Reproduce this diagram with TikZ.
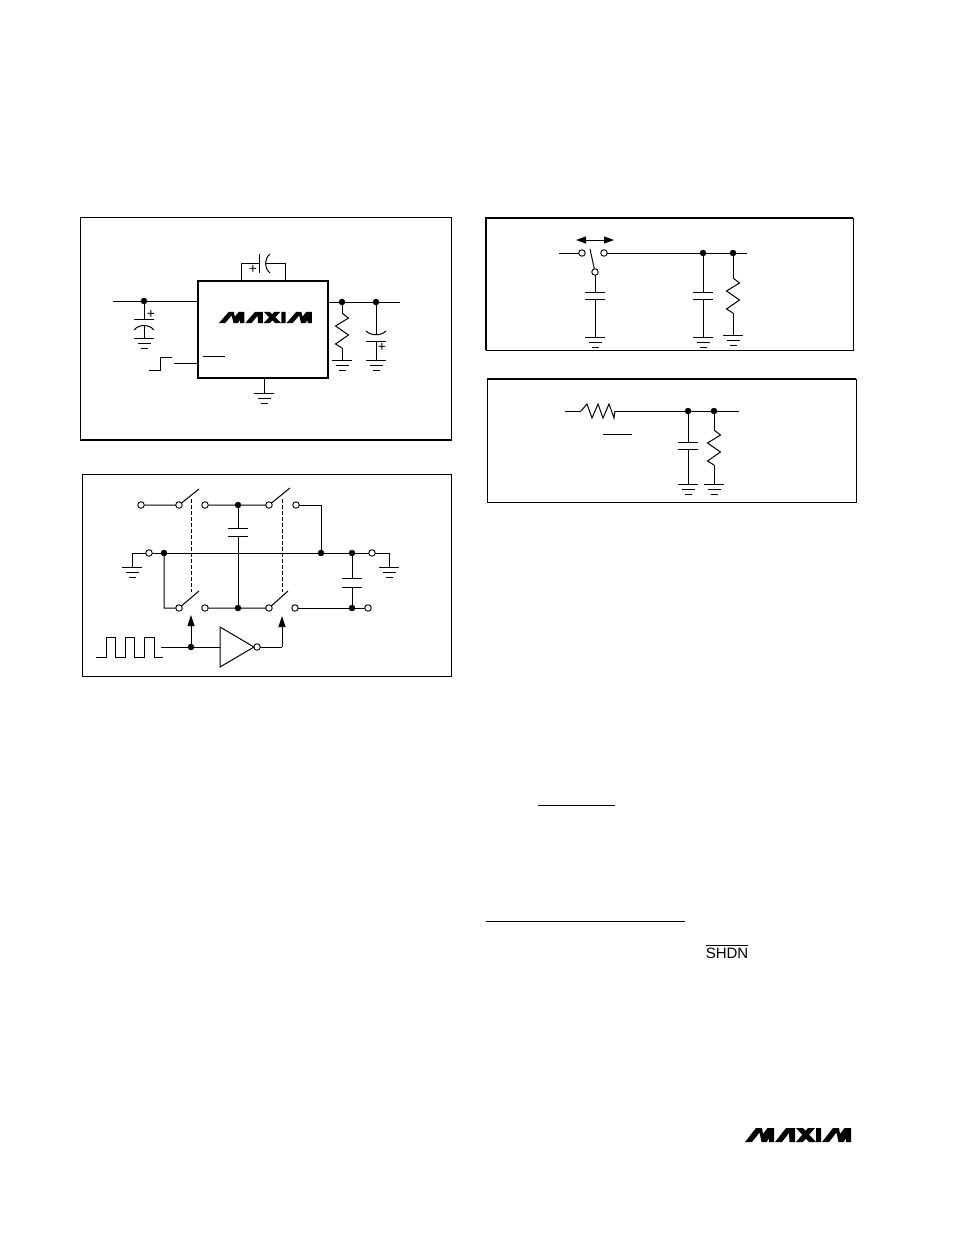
\documentclass[tikz,border=0pt]{standalone}
\usepackage{fontspec}
\setmainfont{Liberation Sans}
\usetikzlibrary{arrows.meta}
\tikzset{
    wire/.style={line width=1pt},
    frame/.style={line width=1pt},
    frameedge/.style={line width=1.8pt},
    jdot/.style={shape=circle,fill=black,draw=black,minimum size=6pt,inner sep=0pt,outer sep=0pt},
    odot/.style={shape=circle,fill=white,draw=black,line width=0.9pt,minimum size=6.5pt,inner sep=0pt,outer sep=0pt},
    icbox/.style={shape=rectangle,draw=black,line width=1.8pt,minimum width=130pt,minimum height=97pt,inner sep=0pt,outer sep=0pt},
    pluslabel/.style={inner sep=0pt,font=\fontsize{14}{14}\selectfont},
    pics/gnd/.style={code={\draw[wire] (-10,0)--(10,0) (-6.5,5)--(6.5,5) (-3.5,10)--(3.5,10);}},
    pics/plate/.style={code={\draw[wire] (-10,0)--(10,0);}},
    pics/resv/.style={code={\draw[wire] (0,0)--(6.5,5)--(-6.5,13)--(6.5,22)--(-6.5,31)--(0,35);}},
    pics/resh/.style={code={\draw[wire] (0,0)--(6,-7)--(11,7)--(17,-7)--(22,7)--(28,-7)--(33,7)--(34,0);}},
}
\newcommand{\maximlogo}[3]{%
    \begin{scope}[shift={(#1)},xscale=#2,yscale=-#3]
        \foreach \dx in {0,77}{
            \fill[black,shift={(\dx,0)}] (0,0)--(7,0)--(14.5,9.5)--(16.5,0)--(21.5,0)--(24,3.5)--(24,0)--(29,0)--(29,14)--(22.5,14)--(18,8)--(17,14)--(11,14)--cycle;
        }
        \fill[black] (30,0)--(37,0)--(44,9)--(44.5,0)--(50,0)--(50,14)--(41,14)--cycle
            (51,14)--(58,14)--(71,0)--(64,0)--cycle
            (63,14)--(70,14)--(58,0)--(51,0)--cycle
            (71,14)--(76,14)--(76,0)--(71,0)--cycle;
    \end{scope}}

\begin{document}
\begin{tikzpicture}[x=1pt,y=-1pt]
    \useasboundingbox (0,0) rectangle (954,1235);
    \fill[white] (0,0) rectangle (954,1235);

    \draw[frame] (80,217.5) rectangle (451,440);
    \draw[frameedge] (80,440) -- (451,440);
    \draw[frame] (82,474.5) rectangle (451,676);
    \draw[frame] (486,218) rectangle (853,350);
    \draw[frameedge] (486,350) |- (853,218);
    \draw[frame] (487,379) rectangle (856,502);
    \draw[frameedge] (487,379) -- (856,379);

    \node[icbox] (ic) at (263,329.5) {};
    \maximlogo{219,323}{0.877}{0.79}
    \node[jdot] (injoin) at (144,301) {};
    \coordinate (instart) at (113,301);
    \coordinate (icin) at (198,301);
    \coordinate (incap) at (144,319);
    \coordinate (incurve) at (144,325);
    \coordinate (ingnd) at (144,338);
    \draw[wire] (instart) -- (injoin) -- (icin);
    \draw[wire] (injoin) -- (incap);
    \pic at (incap) {plate};
    \draw[wire] (134,330) .. controls (139,324) and (149,324) .. (154,330);
    \draw[wire] (incurve) -- (ingnd);
    \pic at (ingnd) {gnd};
    \node[pluslabel] (inplus) at (151,314) {+};

    \coordinate (fly1) at (241,281);
    \coordinate (fly2) at (241,263);
    \coordinate (fly3) at (259,263);
    \coordinate (fly4) at (265,263);
    \coordinate (fly5) at (285,263);
    \coordinate (fly6) at (285,281);
    \draw[wire] (fly1) -- (fly2) -- (fly3);
    \draw[wire] (fly4) -- (fly5) -- (fly6);
    \draw[wire] (259,254) -- (259,273);
    \draw[wire] (270,254) .. controls (264,259) and (264,268) .. (270,273);
    \node[pluslabel] (flyplus) at (253,269) {+};

    \coordinate (icout) at (328,302);
    \coordinate (outend) at (400,302);
    \node[jdot] (outjoin) at (342,302) {};
    \node[jdot] (capjoin) at (376,302) {};
    \draw[wire] (icout) -- (outjoin) -- (capjoin) -- (outend);
    \coordinate (loadtop) at (342,313);
    \coordinate (loadbot) at (342,348);
    \coordinate (loadgnd) at (342,360);
    \draw[wire] (outjoin) -- (loadtop);
    \pic at (loadtop) {resv};
    \draw[wire] (loadbot) -- (loadgnd);
    \pic at (loadgnd) {gnd};
    \coordinate (outcurve) at (376,335);
    \coordinate (outcap) at (376,341);
    \coordinate (outgnd) at (376,360);
    \draw[wire] (capjoin) -- (outcurve);
    \draw[wire] (366,331) .. controls (371,336) and (381,336) .. (386,331);
    \pic at (outcap) {plate};
    \draw[wire] (outcap) -- (outgnd);
    \pic at (outgnd) {gnd};
    \node[pluslabel] (outplus) at (382,347) {+};

    \coordinate (shdnin) at (174,363);
    \coordinate (shdnic) at (198,363);
    \draw[wire] (shdnin) -- (shdnic);
    \draw[wire] (149,370) -- (160,370) -- (160,357) -- (172,357);
    \draw[wire] (203,356) -- (225,356);
    \coordinate (icgnd) at (264,378);
    \coordinate (icgndb) at (264,393);
    \draw[wire] (icgnd) -- (icgndb);
    \pic at (icgndb) {gnd};

    \node[odot] (ta) at (141,505) {};
    \node[odot] (tb) at (179,505) {};
    \node[odot] (tc) at (205,505) {};
    \node[jdot] (td) at (238,505) {};
    \node[odot] (te) at (269,505) {};
    \node[odot] (tf) at (296,505) {};
    \coordinate (tblade1) at (199,489);
    \coordinate (tblade2) at (290,488);
    \coordinate (tbend) at (321,505);
    \draw[wire] (ta) -- (tb) -- (tblade1);
    \draw[wire] (tc) -- (td) -- (te) -- (tblade2);

    \coordinate (mgl) at (132,553);
    \coordinate (mgld) at (132,567);
    \node[odot] (ma) at (149,553) {};
    \node[jdot] (mb) at (164,553) {};
    \node[jdot] (mc) at (321,553) {};
    \node[jdot] (md) at (352,553) {};
    \node[odot] (me) at (372,553) {};
    \coordinate (mgr) at (389,553);
    \coordinate (mgrd) at (389,567);
    \draw[wire] (mgld) -- (mgl) -- (ma) -- (mb) -- (mc) -- (md) -- (me) -- (mgr) -- (mgrd);
    \draw[wire] (tf) -- (tbend) -- (mc);
    \pic at (mgld) {gnd};
    \pic at (mgrd) {gnd};

    \node[odot] (ba) at (179,608) {};
    \node[odot] (bb) at (205,608) {};
    \node[jdot] (bc) at (238,608) {};
    \node[odot] (bd) at (269,608) {};
    \node[odot] (be) at (295,608) {};
    \node[jdot] (bf) at (352,608) {};
    \node[odot] (bg) at (368,608) {};
    \coordinate (bcorner) at (164,608);
    \coordinate (bblade1) at (199,591);
    \coordinate (bblade2) at (288,591);
    \draw[wire] (mb) -- (bcorner) -- (ba) -- (bblade1);
    \draw[wire] (bb) -- (bc) -- (bd) -- (bblade2);
    \draw[wire] (be) -- (bf) -- (bg);

    \coordinate (fcap1) at (238,528);
    \coordinate (fcap2) at (238,536);
    \draw[wire] (td) -- (fcap1);
    \pic at (fcap1) {plate};
    \pic at (fcap2) {plate};
    \draw[wire] (fcap2) -- (bc);
    \coordinate (scap1) at (352,578);
    \coordinate (scap2) at (352,587);
    \draw[wire] (md) -- (scap1);
    \pic at (scap1) {plate};
    \pic at (scap2) {plate};
    \draw[wire] (scap2) -- (bf);

    \draw[wire,dash pattern=on 3.5pt off 2.5pt] (191,499) -- (191,592);
    \draw[wire,dash pattern=on 3.5pt off 2.5pt] (282,499) -- (282,592);

    \coordinate (clkin) at (161,647);
    \node[jdot] (clkjoin) at (191,647) {};
    \coordinate (invin) at (220,647);
    \coordinate (invtop) at (220,627);
    \coordinate (invbot) at (220,667);
    \coordinate (invtip) at (254,647);
    \node[odot] (invout) at (257,647) {};
    \coordinate (invturn) at (282,647);
    \coordinate (arrow1) at (191,615);
    \coordinate (arrow2) at (282,616);
    \draw[wire] (invtop) -- (invtip) -- (invbot) -- cycle;
    \draw[wire] (clkin) -- (clkjoin) -- (invin);
    \draw[wire] (invout) -- (invturn);
    \draw[wire,-{Triangle[length=11pt,width=7pt]}] (clkjoin) -- (arrow1);
    \draw[wire,-{Triangle[length=11pt,width=7pt]}] (invturn) -- (arrow2);
    \draw[wire] (96,657) -- (106,657) -- (106,637) -- (115,637) -- (115,657) -- (125,657) -- (125,637) -- (134,637) -- (134,657) -- (144,657) -- (144,637) -- (154,637) -- (154,657) -- (163,657);

    \coordinate (swstart) at (559,253);
    \node[odot] (swl) at (582,253) {};
    \node[odot] (swr) at (604,253) {};
    \node[odot] (swc) at (595,272) {};
    \coordinate (swtip) at (590,249);
    \node[jdot] (hja) at (703,253) {};
    \node[jdot] (hjb) at (733,253) {};
    \coordinate (swend) at (747,253);
    \draw[wire] (swstart) -- (swl);
    \draw[wire] (swr) -- (hja) -- (hjb) -- (swend);
    \draw[wire] (swc) -- (swtip);
    \coordinate (arl) at (576,240);
    \coordinate (arr) at (614,240);
    \draw[wire,{Triangle[length=10pt,width=7pt]}-{Triangle[length=10pt,width=7pt]}] (arl) -- (arr);
    \foreach \nm/\top/\cx in {ha/swc/595,hb/hja/703}{
        \coordinate (\nm p1) at (\cx,292);
        \coordinate (\nm p2) at (\cx,299);
        \coordinate (\nm g) at (\cx,337);
        \draw[wire] (\top) -- (\nm p1);
        \pic at (\nm p1) {plate};
        \pic at (\nm p2) {plate};
        \draw[wire] (\nm p2) -- (\nm g);
        \pic at (\nm g) {gnd};
    }
    \coordinate (hrt) at (733,278);
    \coordinate (hrb) at (733,313);
    \coordinate (hrg) at (733,335);
    \draw[wire] (hjb) -- (hrt);
    \pic at (hrt) {resv};
    \draw[wire] (hrb) -- (hrg);
    \pic at (hrg) {gnd};

    \coordinate (rcin) at (565,411);
    \coordinate (rcrl) at (581,411);
    \coordinate (rcrr) at (615,411);
    \node[jdot] (rja) at (688,411) {};
    \node[jdot] (rjb) at (714,411) {};
    \coordinate (rcend) at (739,411);
    \draw[wire] (rcin) -- (rcrl);
    \pic at (rcrl) {resh};
    \draw[wire] (rcrr) -- (rja) -- (rjb) -- (rcend);
    \draw[wire] (603,434) -- (632,434);
    \coordinate (rcp1) at (688,442);
    \coordinate (rcp2) at (688,449);
    \coordinate (rcg) at (688,484);
    \draw[wire] (rja) -- (rcp1);
    \pic at (rcp1) {plate};
    \pic at (rcp2) {plate};
    \draw[wire] (rcp2) -- (rcg);
    \pic at (rcg) {gnd};
    \coordinate (rrt) at (714,430);
    \coordinate (rrb) at (714,465);
    \coordinate (rrg) at (714,484);
    \draw[wire] (rjb) -- (rrt);
    \pic at (rrt) {resv};
    \draw[wire] (rrb) -- (rrg);
    \pic at (rrg) {gnd};

    \draw[wire] (538,805) -- (615,805);
    \draw[wire] (486,921) -- (685,921);
    \node[inner sep=0pt,anchor=base] (shdn) at (727,958) {\fontsize{15}{15}\selectfont SHDN};
    \draw[line width=0.5pt] (706,945) -- (748,945);

    \maximlogo{745,1142}{1}{1}
\end{tikzpicture}
\end{document}
